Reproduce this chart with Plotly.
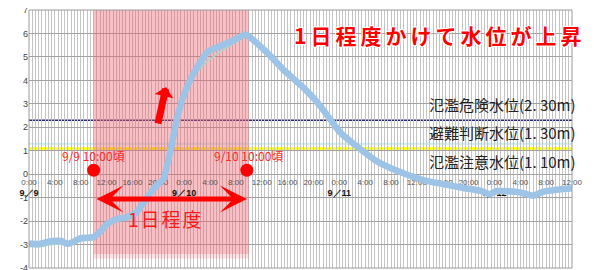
import plotly.graph_objects as go

# ---- data ----
hours = [0, 1.5, 3.5, 5, 6, 8, 10, 11, 12, 13.5, 15, 16.5, 18, 19.5, 20.8, 21.5, 22.3, 23, 24,
         25, 26.1, 27.7, 29.5, 31.6, 33.5, 34.2, 36.8, 39.3, 42.4, 44.6, 46.6, 48.1, 50.7, 53.8,
         57.4, 61, 64, 67, 70, 71.3, 72.4, 76, 78, 79.5, 82, 84]
level = [-2.95, -2.98, -2.85, -2.85, -2.97, -2.73, -2.68, -2.45, -2.15, -1.92, -1.85, -1.65, -1.1,
         -0.55, -0.2, 0.55, 1.57, 2.5, 3.4, 4.05, 4.6, 5.23, 5.45, 5.7, 5.96, 5.83, 5.19, 4.47,
         3.7, 3.06, 2.34, 1.79, 1.19, 0.55, 0.09, -0.25, -0.42, -0.58, -0.72, -0.85, -0.72,
         -0.78, -0.92, -0.75, -0.65, -0.6]
level2 = [-3.08, -3.1, -3.0, -2.98, -3.05, -2.85, -2.8, -2.5, -2.2, -1.98, -1.92, -1.7, -1.15,
          -0.6, -0.25, 0.5, 1.5, 2.45, 3.3, 3.9, 4.4, 4.85, 5.2, 5.55, 5.88, 5.8, 5.15, 4.43,
          3.66, 3.0, 2.28, 1.72, 1.12, 0.48, 0.02, -0.32, -0.5, -0.66, -0.8, -0.93, -0.8,
          -0.86, -0.98, -0.83, -0.72, -0.68]

tick_hours = list(range(0, 85, 4))
time_labels = ["0:00", "4:00", "8:00", "12:00", "16:00", "20:00"] * 3 + ["0:00", "4:00", "8:00", "12:00"]
date_labels = {0: "9／9", 24: "9／10", 48: "9／11", 72: "9／12"}

y_ticks = [-4, -3, -2, -1, 0, 1, 2, 3, 4, 5, 6, 7]
y_labels = ["-4", "-3", "-2", "-1", "0", "1", "2", "3", "4", "5", "6", "7"]

thresholds = [2.30, 1.30, 1.10]
threshold_labels = ["氾濫危険水位(2. 30m)", "避難判断水位(1. 30m)", "氾濫注意水位(1. 10m)"]
threshold_colors = ["#26266e", "#cdeef2", "#ffff00"]
threshold_widths = [1.6, 2, 2.5]
label_y = [2.98, 1.79, 0.55]

band_start, band_end = 10, 34          # 9/9 10:00 -> 9/10 10:00
event_hours = [10, 33.7]
event_level = [0.17, 0.17]
event_labels = ["9/9 10:00頃", "9/10 10:00頃"]

JP = "Noto Sans CJK JP, Noto Sans, sans-serif"

fig = go.Figure()

fig.add_shape(type="rect", x0=band_start, x1=band_end, y0=-3.4, y1=7,
              fillcolor="rgba(238,95,108,0.40)", line_width=0, layer="between")
fig.add_shape(type="rect", x0=band_start, x1=band_end, y0=-3.6, y1=-3.4,
              fillcolor="rgba(238,95,108,0.18)", line_width=0, layer="between")

for yv, c, w in zip(thresholds, threshold_colors, threshold_widths):
    fig.add_shape(type="line", xref="paper", x0=0, x1=1, y0=yv, y1=yv,
                  line=dict(color=c, width=w), layer="between")

fig.add_trace(go.Scatter(x=hours, y=level2, mode="lines",
                         line=dict(color="#a9d6d0", width=1.5), hoverinfo="skip"))
fig.add_trace(go.Scatter(x=hours, y=level, mode="lines",
                         line=dict(color="#9dc3e6", width=6.5, shape="spline", smoothing=0.6),
                         hoverinfo="skip"))
fig.add_trace(go.Scatter(x=event_hours, y=event_level, mode="markers",
                         marker=dict(color="#ff0000", size=13), hoverinfo="skip"))

# border
fig.add_shape(type="rect", xref="paper", yref="paper", x0=0, x1=1, y0=0, y1=1,
              line=dict(color="#9a9a9a", width=1), layer="above")

ticktext = []
for h, t in zip(tick_hours, time_labels):
    if h in date_labels:
        ticktext.append(t + '<br><span style="font-size:9px;color:#111"><b>' + date_labels[h] + '</b></span>')
    else:
        ticktext.append(t)

for txt, yv in zip(threshold_labels, label_y):
    fig.add_annotation(x=0.733, xref="paper", y=yv, yref="y", text=txt, showarrow=False,
                       xanchor="left", yanchor="middle",
                       font=dict(family=JP, size=15, color="#222222"))

for txt, xv in zip(event_labels, [9.98, 33.9]):
    fig.add_annotation(x=xv, y=0.81, text=txt, showarrow=False, xanchor="center",
                       font=dict(family=JP, size=12, color="#ff2a2a"))

# headline
fig.add_annotation(x=0.484, xref="paper", y=0.905, yref="paper",
                   text='<span style="letter-spacing:4px"><b>1日程度かけて水位が上昇</b></span>',
                   showarrow=False, xanchor="left", yanchor="middle",
                   font=dict(family=JP, size=21, color="#ff0000",
                             shadow="1px 1px 0 white, -1px -1px 0 white, 1px -1px 0 white, -1px 1px 0 white"))

# double arrow "1日程度"
fig.add_annotation(x=33.7, y=-1.06, ax=10.2, ay=-1.06, axref="x", ayref="y",
                   text="", showarrow=True, arrowside="end+start", arrowhead=3, startarrowhead=3,
                   arrowwidth=5, arrowsize=0.9, startarrowsize=0.9, arrowcolor="#ff0000")
fig.add_annotation(x=21.2, y=-1.91, text='<span style="letter-spacing:2px">1日程度</span>',
                   showarrow=False, font=dict(family=JP, size=19, color="#ff1a1a"))

# rising arrow
fig.add_annotation(x=21.2, y=3.72, ax=19.9, ay=2.1, axref="x", ayref="y",
                   text="", showarrow=True, arrowhead=1, arrowwidth=7, arrowsize=0.45,
                   arrowcolor="#ff0000")

# the page body adds an 8px offset, so the figure is 8px smaller than the window
fig.update_layout(
    width=586, height=262,
    margin=dict(l=21, r=22, t=2, b=2, autoexpand=False),
    paper_bgcolor="white", plot_bgcolor="white",
    showlegend=False,
    xaxis=dict(range=[0, 84], anchor="free", position=4 / 11 - 2 / 258, automargin=False,
               tickmode="array", tickvals=tick_hours, ticktext=ticktext, tickangle=0,
               showgrid=False, zeroline=False, showline=False, ticks="",
               tickfont=dict(family="Liberation Sans, Arial, sans-serif", size=8, color="#555"),
               layer="below traces",
               minor=dict(tickmode="linear", tick0=0, dtick=0.5, showgrid=True,
                          gridcolor="#c4c4c4", gridwidth=1, ticks="")),
    yaxis=dict(range=[-4, 7], tickmode="array", tickvals=y_ticks, ticktext=y_labels,
               showgrid=True, gridcolor="#a2a2a2", gridwidth=1.3, zeroline=False, automargin=False,
               ticks="", ticklabeloverflow="allow",
               tickfont=dict(family="Liberation Sans, Arial, sans-serif", size=9, color="#444"),
               layer="below traces"),
)

fig.write_html("out.html")
